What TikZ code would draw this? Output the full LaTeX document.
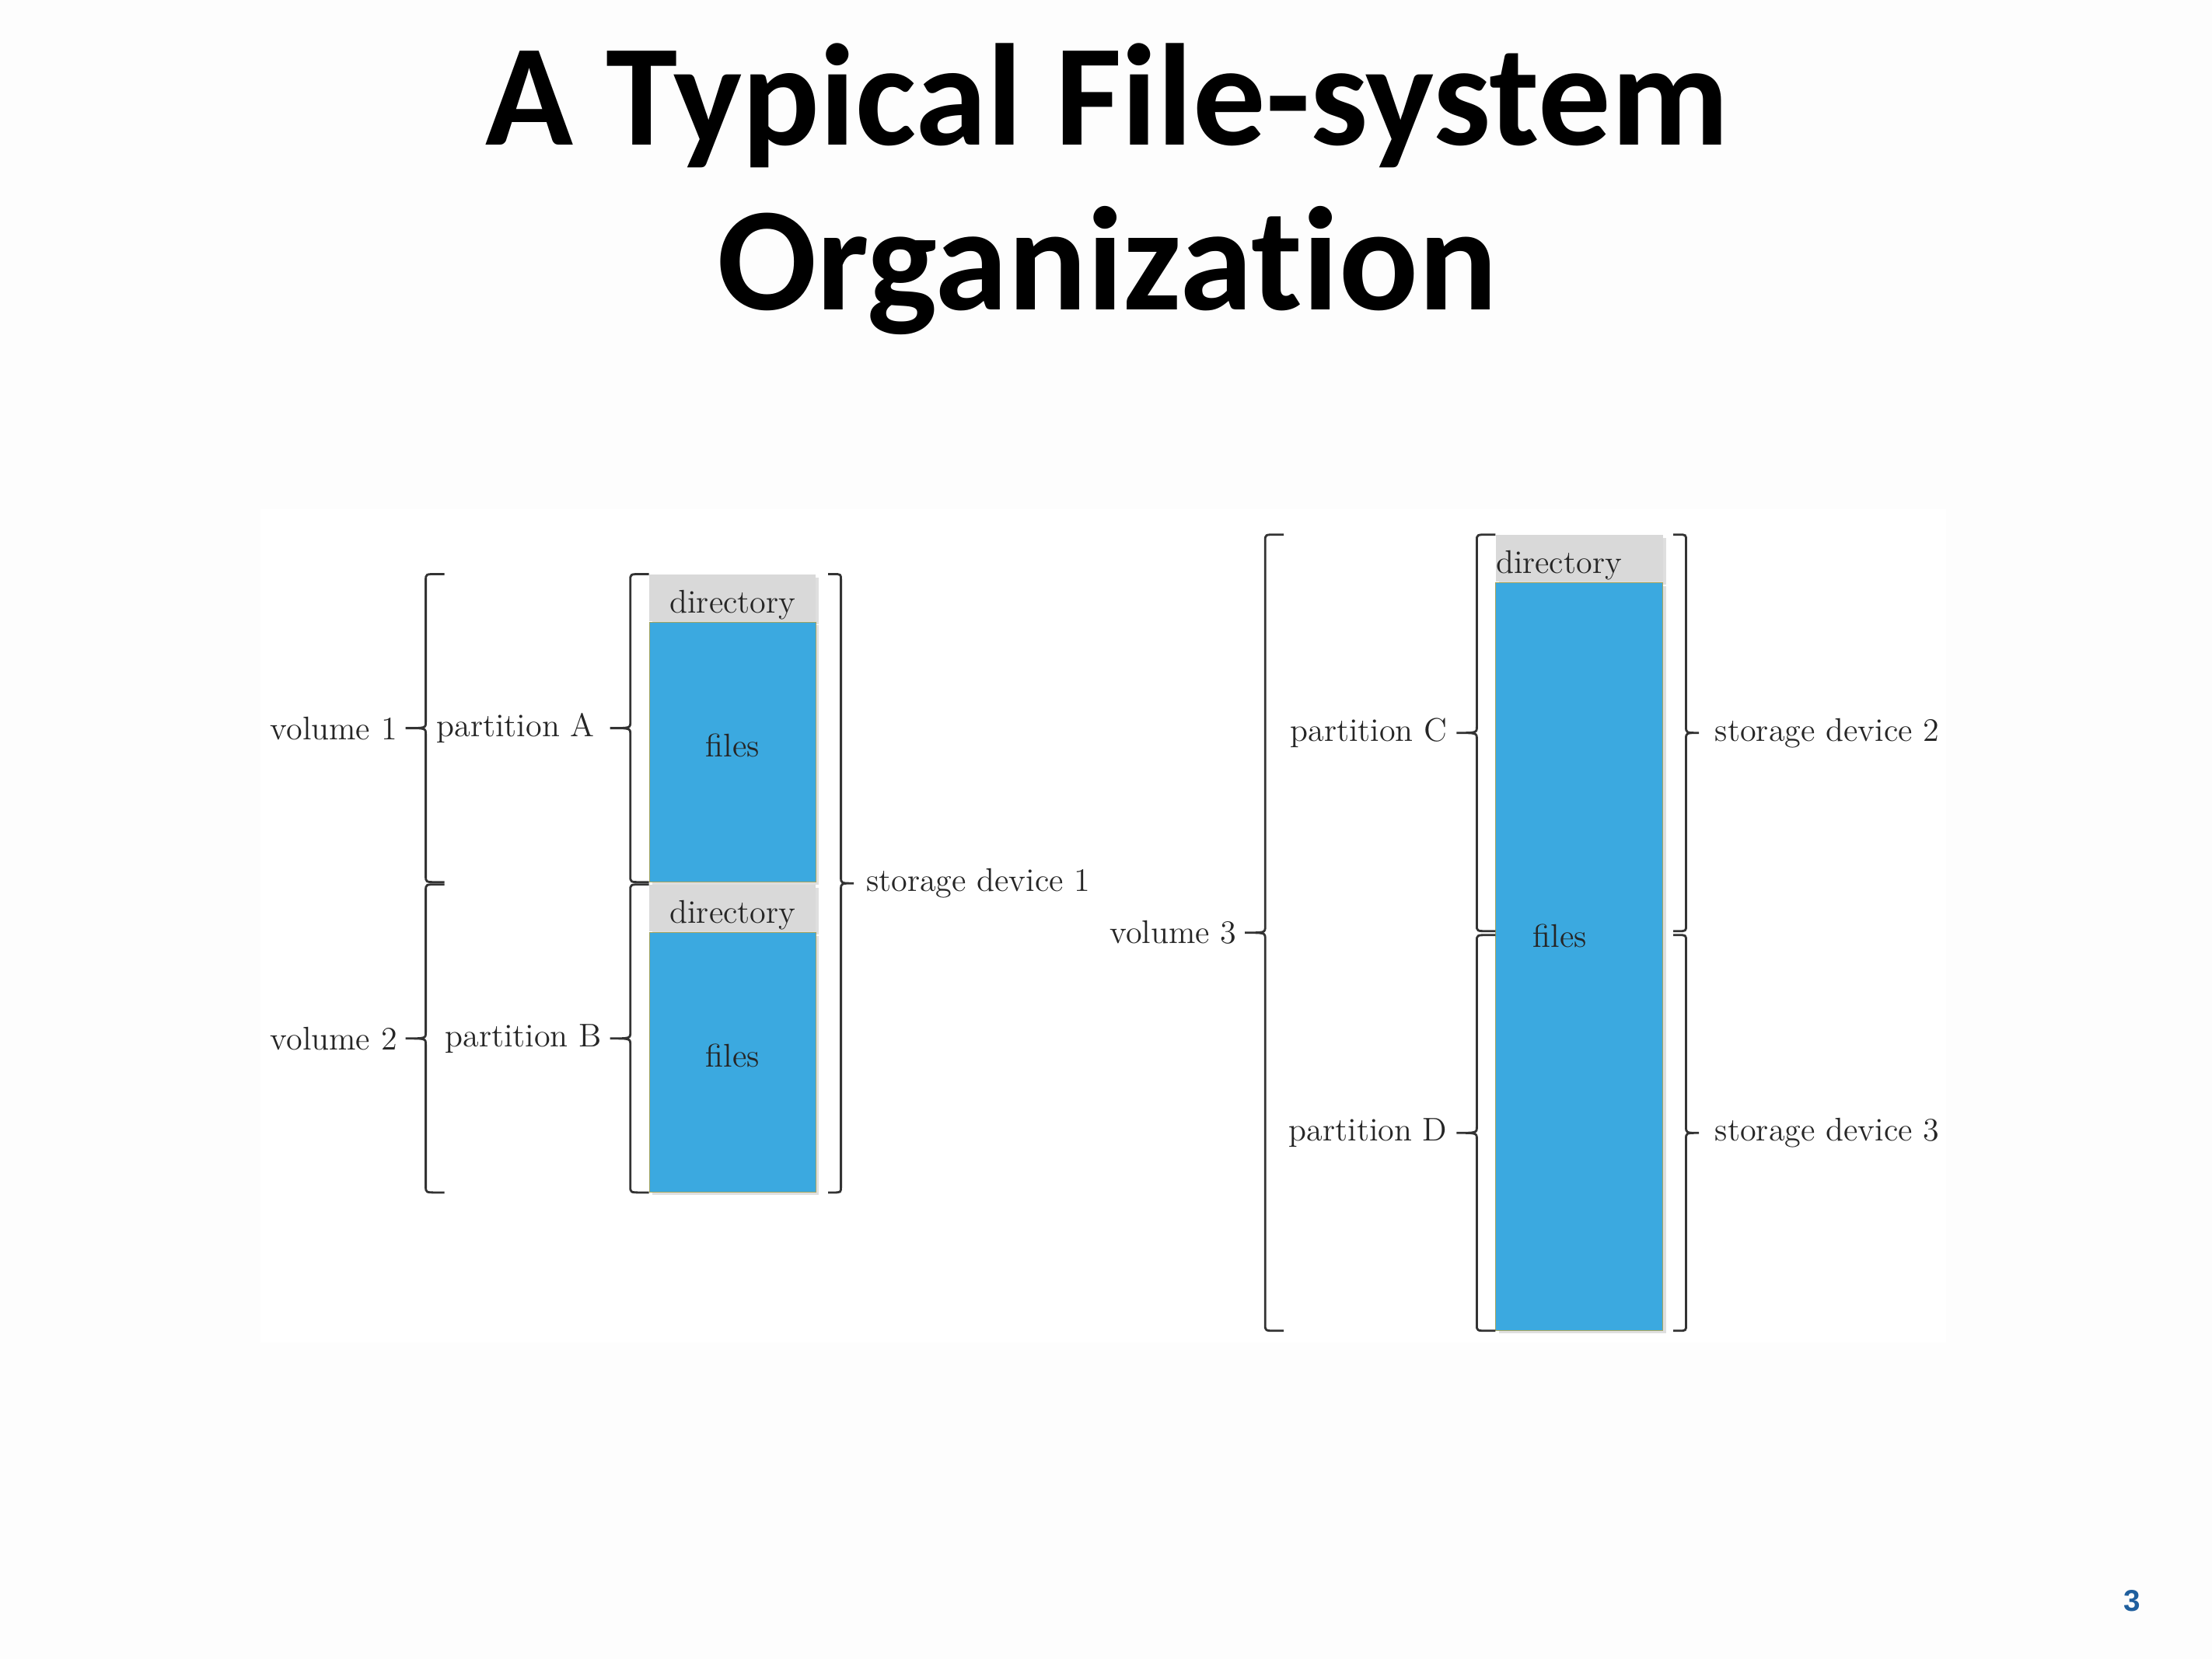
\documentclass[tikz,border=0pt]{standalone}
\usepackage{fontspec}
\newfontfamily\titlefont{Carlito}[Ligatures=NoCommon]
\newfontfamily\pagefont{Liberation Sans}
\usetikzlibrary{calc}
\usetikzlibrary{shadows}
\usetikzlibrary{positioning}
\definecolor{fsblue}{RGB}{59,169,224}
\definecolor{fsgray}{RGB}{217,217,217}
\definecolor{fsedge}{RGB}{165,165,95}
\definecolor{pageblue}{RGB}{31,95,158}
\definecolor{pagebg}{RGB}{253,253,253}

\begin{document}
\begin{tikzpicture}[every node/.style={font=\fontsize{12}{14}\selectfont, text=black!85},
    colshadow/.style={drop shadow={shadow xshift=0.04cm, shadow yshift=-0.04cm, opacity=0.25}},
    dirbox/.style={fill=fsgray, minimum width=2.14cm, minimum height=0.6cm, inner sep=0pt,
      text height=0.47cm, text depth=0.08cm, anchor=north west, colshadow},
    filebox/.style={fill=fsblue, draw=fsedge, line width=0.3pt, minimum width=2.14cm, inner sep=0pt,
      text depth=0.18cm, anchor=north west, colshadow},
    bracelabel/.style={inner sep=1pt, pos=1},
    % brace drawn from the lower end to the upper end; #1 = offset of the stem, #2 = offset of the tip
    fsbrace/.style 2 args={line width=0.8pt, draw=black!80, to path={
      -- ($(\tikztostart)+(0.4*#1,0)$)
      .. controls ($(\tikztostart)+(#1,0)$) .. ($(\tikztostart)+(#1,0.08)$)
      -- ($(\tikztostart)!0.5!(\tikztotarget)+(#1,-0.08)$)
      .. controls ($(\tikztostart)!0.5!(\tikztotarget)+(#1,0)$) .. ($(\tikztostart)!0.5!(\tikztotarget)+(#2,0)$) \tikztonodes
      .. controls ($(\tikztostart)!0.5!(\tikztotarget)+(#1,0)$) .. ($(\tikztostart)!0.5!(\tikztotarget)+(#1,0.08)$)
      -- ($(\tikztotarget)+(#1,-0.08)$)
      .. controls ($(\tikztotarget)+(#1,0)$) .. ($(\tikztotarget)+(0.4*#1,0)$)
      -- (\tikztotarget)}},
    lbrace/.style={fsbrace={-0.24}{-0.5}},
    rbrace/.style={fsbrace={0.165}{0.33}}]

  \useasboundingbox (0,0) rectangle (28.45,21.34);
  \fill[pagebg] (0,0) rectangle (28.45,21.34);
  \fill[white] (3.35,4.07) rectangle (25.03,14.79);

  % title
  \node[font=\titlefont\bfseries\fontsize{53}{60}\selectfont, text=black, anchor=base] (title1) at (14.24,19.47) {A Typical File-system};
  \node[font=\titlefont\bfseries\fontsize{54}{60}\selectfont, text=black, anchor=base] (title2) at (14.24,17.35) {Organization};

  % storage device 1
  \node[dirbox] (dirA) at (8.347,13.955) {directory};
  \node[filebox, minimum height=3.338cm] (filesA) at (dirA.south west) {files};
  \node[dirbox] (dirB) at (8.347,9.963) {directory};
  \node[filebox, minimum height=3.338cm] (filesB) at (dirB.south west) {files};

  \coordinate (vx) at (5.716,0);
  \coordinate (sx) at (10.651,0);

  \draw[lbrace] (filesA.south -| vx) to node[bracelabel, left=0.06cm] (vol1) {volume 1} (dirA.north -| vx);
  \draw[lbrace] (filesB.south -| vx) to node[bracelabel, left=0.06cm] (vol2) {volume 2} (dirB.north -| vx);
  \draw[lbrace] (filesA.south west) to node[bracelabel, left=0.15cm] (partA) {partition A} (dirA.north west);
  \draw[lbrace] (filesB.south west) to node[bracelabel, left=0.06cm] (partB) {partition B} (dirB.north west);
  \draw[rbrace] (filesB.south -| sx) to node[bracelabel, right=0.11cm] (dev1) {storage device 1} (dirA.north -| sx);

  % storage devices 2 and 3
  \node[dirbox, minimum width=2.15cm, text width=2.15cm, align=left] (dirC) at (19.234,14.463) {directory};
  \node[filebox, minimum width=2.15cm, minimum height=9.617cm,
        label={[xshift=-0.25cm, yshift=0.27cm]center:files}] (filesCD) at (dirC.south west) {};

  \coordinate (vx3) at (16.512,0);
  \coordinate (sx2) at (21.52,0);
  \coordinate (midC) at ($(dirC.north west)!0.5!(filesCD.south west)+(0,0.02)$);
  \coordinate (midD) at ($(dirC.north west)!0.5!(filesCD.south west)+(0,-0.03)$);

  \draw[lbrace] (filesCD.south -| vx3) to node[bracelabel, left=0.06cm] (vol3) {volume 3} (dirC.north -| vx3);
  \draw[lbrace] (midC) to node[bracelabel, left=0.07cm] (partC) {partition C} (dirC.north west);
  \draw[lbrace] (filesCD.south west) to node[bracelabel, left=0.07cm] (partD) {partition D} (midD);
  \draw[rbrace] (midC -| sx2) to node[bracelabel, right=0.16cm] (dev2) {storage device 2} (dirC.north -| sx2);
  \draw[rbrace] (filesCD.south -| sx2) to node[bracelabel, right=0.16cm] (dev3) {storage device 3} (midD -| sx2);

  % page number
  \node[font=\pagefont\bfseries\fontsize{11}{13}\selectfont, text=pageblue] (page) at (27.42,0.745) {3};
\end{tikzpicture}
\end{document}
